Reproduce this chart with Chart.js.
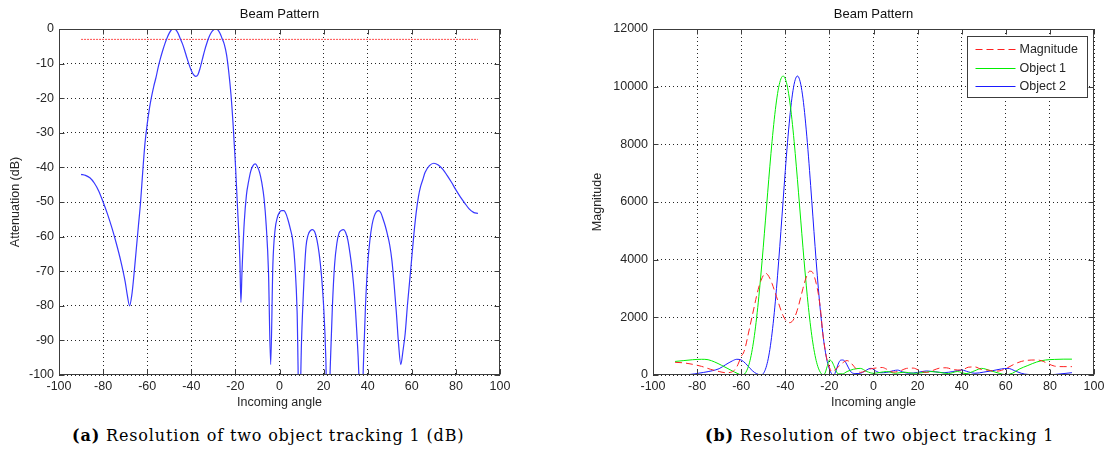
<!DOCTYPE html>
<html>
<head>
<meta charset="utf-8">
<title>Beam Pattern</title>
<script src="https://cdn.jsdelivr.net/npm/chart.js@4.4.1/dist/chart.umd.min.js"></script>
<style>
    body { margin: 0; background: #fff; width: 1109px; height: 460px; position: relative; overflow: hidden; }
    canvas { position: absolute; top: 0; }
    #cvDb { left: 0; }
    #cvMag { left: 560px; }
    .caption { position: absolute; top: 426px; font-family: 'DejaVu Serif', 'Liberation Serif', serif; font-size: 16px; letter-spacing: 0.85px; color: #000; white-space: nowrap; }
    #capA { left: 72px; }
    #capB { left: 705px; }
</style>
</head>
<body>
<canvas id="cvDb" width="520" height="410"></canvas>
<canvas id="cvMag" width="549" height="410"></canvas>
<div class="caption" id="capA"><b>(a)</b> Resolution of two object tracking 1 (dB)</div>
<div class="caption" id="capB"><b>(b)</b> Resolution of two object tracking 1</div>
<script>
// tick labels
const angleTicks = [-100, -80, -60, -40, -20, 0, 20, 40, 60, 80, 100];
const dbTicks = [-100, -90, -80, -70, -60, -50, -40, -30, -20, -10, 0];
const magTicks = [0, 2000, 4000, 6000, 8000, 10000, 12000];

// (a) beam pattern in dB
const dbAngle = [-90, -88, -86, -84, -82, -80, -78, -76, -74, -72, -70, -69, -68, -67, -66, -65, -64, -63, -62, -61,
    -60, -59, -58, -57, -56, -55, -54, -53, -52, -51, -50, -49, -48, -47, -46, -45, -44, -43, -42, -41,
    -40, -39, -38, -37, -36, -35, -34, -33, -32, -31, -30, -29, -28, -27, -26, -25, -24, -23, -22, -21,
    -20, -19, -18, -17.5, -17, -16, -15, -14, -13, -12, -11, -10, -9, -8, -7, -6, -5, -4, -3, -2, -1,
    0, 1, 2, 3, 4, 5, 6, 7, 8, 9, 10, 11, 12, 13, 14, 15, 16, 17, 18, 19,
    20, 21, 22, 23, 24, 25, 26, 27, 28, 29, 30, 31, 32, 33, 34, 35, 36, 37, 38, 39,
    40, 41, 42, 43, 44, 45, 46, 47, 48, 49, 50, 51, 52, 53, 54, 55, 56, 57, 58, 59,
    60, 61, 62, 63, 64, 65, 66, 68, 70, 72, 74, 76, 78, 80, 82, 84, 86, 88, 90];
const dbValue = [-42, -42.3, -43, -44.5, -46.8, -50, -53.5, -57.5, -62, -67, -73, -77, -80, -77, -71, -64, -57, -50, -41, -33,
    -27.5, -23, -19.5, -16.5, -14, -11, -8.5, -6.3, -4.3, -2.6, -1.2, -0.2, 0, -0.2, -1.2, -2.8, -4.3, -6.2, -8.3, -10.3,
    -12, -13.2, -13.7, -13.2, -11.3, -8.8, -6.3, -4.2, -2.4, -1.1, -0.3, 0, -0.2, -1.2, -2.8, -4.5, -7.5, -12.5, -19, -28,
    -39, -52, -66, -79, -70, -56, -48, -44, -41, -39.5, -39, -39.8, -41.5, -44.5, -49, -57, -70, -97, -68, -58, -54.5,
    -53, -52.5, -52.5, -53.5, -55.5, -58, -61, -68, -82, -115, -90, -74, -63, -59.5, -58.3, -58, -58.7, -61, -65, -71,
    -80, -95, -125, -98, -80, -68, -62, -59, -58.2, -58, -58.8, -61, -65, -70, -77, -87, -100, -125, -98, -80,
    -68, -61, -56.5, -54, -52.8, -52.5, -53.2, -55, -57, -59.5, -62.5, -67, -74, -82, -91, -97, -93, -88, -80, -73,
    -66, -59, -53, -48.5, -45.5, -43.5, -41.5, -39.5, -38.8, -39.3, -40.5, -42.3, -44.3, -46.5, -48.5, -50.3, -52, -53, -53.3];
const halfPowerAngle = [-90, 90];
const halfPowerValue = [-3, -3];

// (b) magnitude of the beams
const magAngle = [-90, -86, -82, -78, -74, -70, -67, -65, -63, -62, -61, -60, -59, -58, -57, -56, -55, -54, -53, -52,
    -51, -50, -49, -48, -47, -46, -45, -44, -43, -42, -41, -40, -39, -38, -37, -36, -35, -34, -33, -32,
    -31, -30, -29, -28, -27, -26, -25, -24, -23, -22, -21, -20, -19, -18, -16, -14, -12, -10, -8, -6,
    -4, -2, 0, 2, 4, 6, 9, 12, 15, 18, 21, 24, 27, 30, 33, 36, 40, 43, 46, 49,
    52, 55, 58, 61, 64, 67, 70, 73, 76, 79, 82, 86, 90];
const magValue = [440, 420, 370, 300, 200, 120, 80, 90, 170, 280, 450, 650, 760, 1000, 1350, 1700, 2050, 2400, 2750, 3050,
    3280, 3450, 3530, 3480, 3350, 3170, 2950, 2720, 2480, 2250, 2060, 1920, 1840, 1815, 1850, 1960, 2150, 2400, 2700, 3000,
    3280, 3480, 3600, 3590, 3450, 3180, 2800, 2250, 1450, 900, 500, 270, 120, 150, 280, 420, 500, 400, 220, 90,
    130, 200, 230, 250, 260, 200, 100, 140, 230, 240, 150, 90, 160, 240, 250, 190, 170, 270, 280, 190,
    170, 130, 160, 260, 380, 470, 510, 520, 500, 400, 310, 290, 290];

const obj1Angle = [-90, -86, -82, -78, -75, -72, -69, -66, -63, -61, -60, -59, -58, -57, -56, -55, -54, -53, -52, -51,
    -50, -49, -48, -47, -46, -45, -44, -43, -42, -41, -40, -39, -38, -37, -36, -35, -34, -33, -32, -31,
    -30, -29, -28, -27, -26, -25, -24, -23, -22, -21, -20, -19, -18, -17, -16, -14, -12, -9, -6, -3,
    0, 3, 6, 10, 14, 18, 22, 26, 30, 34, 38, 42, 46, 49, 53, 57, 60, 63, 66, 70,
    74, 78, 82, 86, 90];
const obj1Value = [470, 500, 530, 545, 530, 450, 340, 220, 100, 30, 0, 8, 79, 239, 501, 879, 1374, 1991, 2717, 3538,
    4432, 5372, 6319, 7242, 8104, 8870, 9505, 9980, 10270, 10370, 10270, 9980, 9505, 8870, 8104, 7242, 6319, 5372, 4432, 3538,
    2717, 1991, 1374, 879, 501, 239, 79, 8, 60, 300, 520, 480, 330, 150, 40, 40, 120, 200, 230, 120,
    60, 90, 120, 60, 100, 60, 80, 120, 90, 50, 120, 50, 150, 230, 150, 60, 10, 60, 200, 330,
    450, 520, 540, 550, 550];

const obj2Angle = [-90, -85, -81, -77, -73, -70, -67, -64, -62, -60, -58, -56, -54, -52, -51, -50.5, -49.5, -48.5, -47.5, -46.5,
    -45.5, -44.5, -43.5, -42.5, -41.5, -40.5, -39.5, -38.5, -37.5, -36.5, -35.5, -34.5, -33.5, -32.5, -31.5, -30.5, -29.5, -28.5, -27.5, -26.5,
    -25.5, -24.5, -23.5, -22.5, -21.5, -20.5, -19.5, -18.5, -18, -17, -16, -15, -14, -13, -12, -11, -10, -8, -6, -4,
    -2, -1, 1, 3, 6, 9, 11, 13, 16, 20, 24, 28, 32, 36, 40, 43, 46, 50, 54, 58,
    61, 64, 67, 70, 75, 80, 85, 90];
const obj2Value = [5, 10, 40, 90, 150, 220, 360, 490, 545, 520, 400, 230, 90, 15, 0, 10, 110, 320, 660, 1150,
    1790, 2560, 3460, 4460, 5510, 6570, 7590, 8500, 9280, 9870, 10240, 10370, 10240, 9870, 9280, 8500, 7590, 6570, 5510, 4460,
    3460, 2560, 1790, 1150, 660, 320, 110, 10, 0, 150, 380, 510, 520, 480, 350, 200, 90, 50, 60, 130,
    220, 230, 140, 80, 90, 150, 170, 110, 60, 90, 140, 110, 80, 120, 170, 110, 60, 100, 150, 210,
    230, 150, 60, 20, 10, 10, 40, 80];

const textColor = '#262626';
const boxColor = '#3c3c3c';
Chart.defaults.font.family = "'Liberation Sans', Arial, sans-serif";
Chart.defaults.font.size = 12.5;
Chart.defaults.color = textColor;

function toPoints(xs, ys) {
    return xs.map((x, i) => ({ x: x, y: ys[i] }));
}

// matlab style box with inner tick marks
const framePlugin = {
    id: 'frame',
    afterDatasetsDraw(chart) {
        const ctx = chart.ctx;
        const a = chart.chartArea;
        const sx = chart.scales.x;
        const sy = chart.scales.y;
        const l = Math.round(a.left) + 0.5, r = Math.round(a.right) - 0.5;
        const t = Math.round(a.top) + 0.5, b = Math.round(a.bottom) - 0.5;
        ctx.save();
        ctx.strokeStyle = boxColor;
        ctx.lineWidth = 1;
        ctx.setLineDash([]);
        ctx.strokeRect(l, t, r - l, b - t);
        ctx.beginPath();
        sx.ticks.forEach((tk) => {
            const px = Math.round(sx.getPixelForValue(tk.value)) + 0.5;
            ctx.moveTo(px, b); ctx.lineTo(px, b - 5);
            ctx.moveTo(px, t); ctx.lineTo(px, t + 5);
        });
        sy.ticks.forEach((tk) => {
            const py = Math.round(sy.getPixelForValue(tk.value)) + 0.5;
            ctx.moveTo(l, py); ctx.lineTo(l + 5, py);
            ctx.moveTo(r, py); ctx.lineTo(r - 5, py);
        });
        ctx.stroke();
        ctx.restore();
    }
};

// legend box in the upper right corner of the axes
const legendBoxPlugin = {
    id: 'legendBox',
    afterDraw(chart) {
        const ctx = chart.ctx;
        const a = chart.chartArea;
        const w = 120, h = 61;
        const left = Math.round(a.right - 7 - w) + 0.5;
        const top = Math.round(a.top + 7) + 0.5;
        ctx.save();
        ctx.fillStyle = '#fff';
        ctx.fillRect(left, top, w, h);
        ctx.strokeStyle = boxColor;
        ctx.lineWidth = 1;
        ctx.strokeRect(left, top, w, h);
        ctx.font = "12.5px 'Liberation Sans', Arial, sans-serif";
        ctx.textBaseline = 'middle';
        ctx.fillStyle = textColor;
        chart.data.datasets.forEach((ds, i) => {
            const y = Math.round(top + 12.5 + i * 18.5) + 0.5;
            ctx.beginPath();
            ctx.strokeStyle = ds.borderColor;
            ctx.lineWidth = 1;
            ctx.setLineDash(ds.borderDash || []);
            ctx.moveTo(left + 8, y);
            ctx.lineTo(left + 48, y);
            ctx.stroke();
            ctx.fillText(ds.label, left + 52, y);
        });
        ctx.restore();
    }
};

function buildScales(yTicks, yTitle, yWidth, yTitlePad) {
    const grid = { color: 'rgba(0,0,0,0.85)', lineWidth: 1, drawTicks: false };
    return {
        x: {
            type: 'linear',
            min: angleTicks[0],
            max: angleTicks[angleTicks.length - 1],
            afterBuildTicks: (s) => { s.ticks = angleTicks.map((v) => ({ value: v })); },
            afterFit: (s) => { s.height = 35; s.paddingLeft = 0; s.paddingRight = 0; },
            grid: grid,
            border: { display: false, dash: [1, 3] },
            ticks: { padding: 4, maxRotation: 0, autoSkip: false, callback: (v) => String(v) },
            title: { display: true, text: 'Incoming angle', padding: { top: 0, bottom: 0 } }
        },
        y: {
            type: 'linear',
            min: yTicks[0],
            max: yTicks[yTicks.length - 1],
            afterBuildTicks: (s) => { s.ticks = yTicks.map((v) => ({ value: v })); },
            afterFit: (s) => { s.width = yWidth; s.paddingTop = 0; s.paddingBottom = 0; },
            grid: grid,
            border: { display: false, dash: [1, 3] },
            ticks: { padding: 5, autoSkip: false, callback: (v) => String(v) },
            title: { display: true, text: yTitle, padding: { top: yTitlePad, bottom: 0 } }
        }
    };
}

function buildOptions(scales, rightPad) {
    return {
        responsive: false,
        animation: false,
        devicePixelRatio: 1,
        layout: { padding: { left: 0, right: rightPad, top: 0, bottom: 0 } },
        elements: { point: { radius: 0 }, line: { borderWidth: 1 } },
        plugins: {
            legend: { display: false },
            tooltip: { enabled: false },
            title: {
                display: true,
                text: 'Beam Pattern',
                fullSize: false,
                color: '#111',
                font: { size: 13, weight: 'normal' },
                padding: { top: 6.5, bottom: 6.9 }
            }
        },
        scales: scales
    };
}

new Chart(document.getElementById('cvDb'), {
    type: 'line',
    data: {
        datasets: [
            {
                label: 'Beam pattern',
                data: toPoints(dbAngle, dbValue),
                borderColor: '#3838ff',
                borderWidth: 1.2,
                cubicInterpolationMode: 'monotone'
            },
            {
                label: '-3 dB',
                data: toPoints(halfPowerAngle, halfPowerValue),
                borderColor: '#ff4d4d',
                borderWidth: 1,
                borderDash: [2, 1]
            }
        ]
    },
    options: buildOptions(buildScales(dbTicks, 'Attenuation (dB)', 59, 8), 20),
    plugins: [framePlugin]
});

new Chart(document.getElementById('cvMag'), {
    type: 'line',
    data: {
        datasets: [
            {
                label: 'Magnitude',
                data: toPoints(magAngle, magValue),
                borderColor: '#ff2020',
                borderDash: [7, 4],
                cubicInterpolationMode: 'monotone'
            },
            {
                label: 'Object 1',
                data: toPoints(obj1Angle, obj1Value),
                borderColor: '#00ee00',
                cubicInterpolationMode: 'monotone'
            },
            {
                label: 'Object 2',
                data: toPoints(obj2Angle, obj2Value),
                borderColor: '#1a1aff',
                cubicInterpolationMode: 'monotone'
            }
        ]
    },
    options: buildOptions(buildScales(magTicks, 'Magnitude', 93, 30.5), 15),
    plugins: [framePlugin, legendBoxPlugin]
});
</script>
</body>
</html>
